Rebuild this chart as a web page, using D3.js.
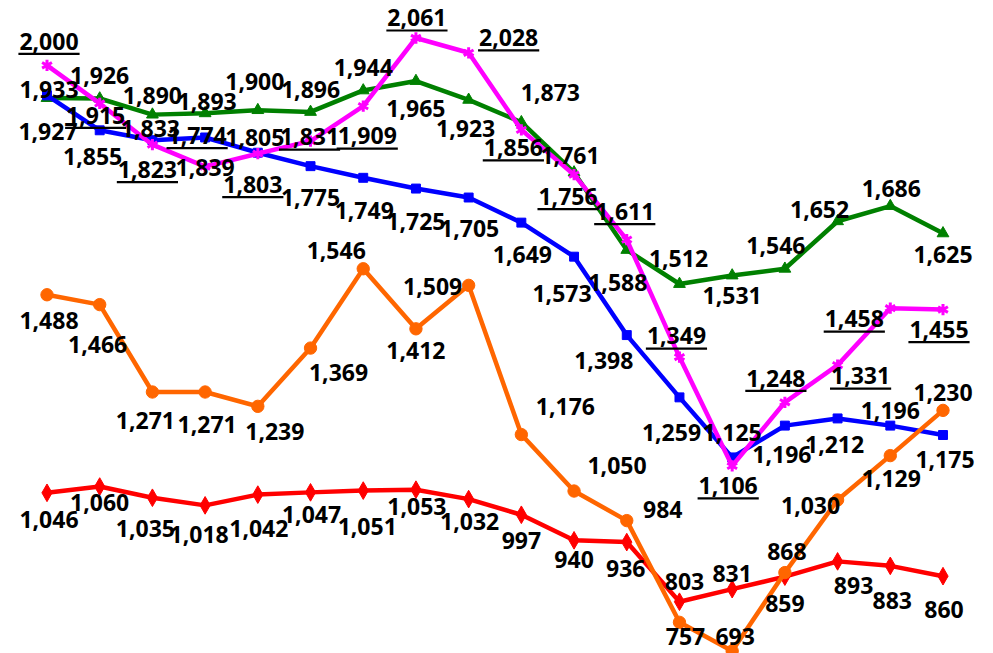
<!DOCTYPE html>
<html>
<head>
<meta charset="utf-8">
<script src="https://cdn.jsdelivr.net/npm/d3@7"></script>
<style>
  html, body { margin: 0; padding: 0; background: #fff; }
  svg { display: block; }
  .lbl { font-family: "Open Sans", sans-serif; font-weight: bold; font-size: 23px; fill: #000; }
</style>
</head>
<body>
<svg></svg>
<script>
var width = 993
var height = 653

// 18 periods, no axis shown in the source
var periods = ["1","2","3","4","5","6","7","8","9","10","11","12","13","14","15","16","17","18"]

var orangeVals  = [1488,1466,1271,1271,1239,1369,1546,1412,1509,1176,1050,984,757,693,868,1030,1129,1230]
var redVals     = [1046,1060,1035,1018,1042,1047,1051,1053,1032,997,940,936,803,831,859,893,883,860]
var blueVals    = [1933,1855,1833,1839,1805,1775,1749,1725,1705,1649,1573,1398,1259,1125,1196,1212,1196,1175]
var greenVals   = [1927,1926,1890,1893,1900,1896,1944,1965,1923,1873,1761,1588,1512,1531,1546,1652,1686,1625]
var magentaVals = [2000,1915,1823,1774,1803,1831,1909,2061,2028,1856,1756,1611,1349,1106,1248,1331,1458,1455]

// where each value label sits relative to its point (dx, dy)
var orangeLbl  = [[2,26],[-2,40],[-7,29],[2,33],[17,25],[28,25],[-27,-18],[0,22],[-36,1],[44,-28],[43,-25],[36,-11],[6,14],[3,-14],[2,-21],[-27,6],[1,23],[0,-18]]
var redLbl     = [[2,27],[0,16],[-7,31],[-6,29],[1,34],[1,22],[4,36],[1,17],[1,23],[0,26],[0,19],[-1,27],[5,-20],[0,-15],[0,27],[16,24],[2,35],[1,34]]
var blueLbl    = [[2,-6],[-7,26],[-2,-11],[0,30],[-3,-15],[0,32],[1,33],[0,33],[1,31],[1,32],[-12,37],[-23,26],[-8,35],[0,-25],[-3,29],[-3,26],[0,-15],[2,25]]
var greenLbl   = [[1,34],[0,-23],[0,-19],[2,-12],[-3,-28],[0,-22],[0,-23],[0,28],[-3,29],[29,-30],[-4,-17],[-9,33],[-1,-25],[0,20],[-9,-23],[-18,-12],[1,-17],[0,21]]
var magentaLbl = [[2,-24],[-4,12],[-5,25],[-8,-31],[-5,31],[-1,-4],[4,30],[1,-20],[40,-15],[-8,18],[-6,22],[-2,-28],[-3,-21],[-4,20],[-9,-24],[23,11],[-36,11],[-4,20]]

var series = [
  {name: "red",     color: "#ff0000", values: redVals,     lbl: redLbl,     symbol: d3.symbolDiamond,  size: 90,  underline: false},
  {name: "green",   color: "#008000", values: greenVals,   lbl: greenLbl,   symbol: d3.symbolTriangle, size: 60,  underline: false},
  {name: "blue",    color: "#0000ff", values: blueVals,    lbl: blueLbl,    symbol: d3.symbolSquare,   size: 80,  underline: false},
  {name: "magenta", color: "#ff00ff", values: magentaVals, lbl: magentaLbl, symbol: d3.symbolAsterisk, size: 90,  underline: true},
  {name: "orange",  color: "#ff6600", values: orangeVals,  lbl: orangeLbl,  symbol: d3.symbolCircle,   size: 120, underline: false}
]

var x = d3.scalePoint()
  .domain(periods)
  .range([47, 943])

var y = d3.scaleLinear()
  .domain([693, 2061])
  .range([651, 38])

var svg = d3.select("svg")
  .attr("width", width)
  .attr("height", height)

var line = d3.line()
  .x((d, i) => x(periods[i]))
  .y(d => y(d))

var gLines = svg.append("g")

series.forEach(s => {
  var g = gLines.append("g")
  g.append("path")
    .datum(s.values)
    .attr("d", line)
    .attr("fill", "none")
    .attr("stroke", s.color)
    .attr("stroke-width", 4.5)
    .attr("stroke-linejoin", "round")

  g.selectAll("path.mk")
    .data(s.values)
    .enter()
    .append("path")
      .attr("class", "mk")
      .attr("transform", (d, i) => "translate(" + x(periods[i]) + "," + y(d) + ")")
      .attr("d", d3.symbol().type(s.symbol).size(s.size))
      .attr("fill", s.color)
      .attr("stroke", s.color)
      .attr("stroke-width", s.symbol == d3.symbolAsterisk ? 3 : 1)
})

var fmt = d3.format(",")
var gLbl = svg.append("g")

series.forEach(s => {
  s.values.forEach((v, i) => {
    var cx = x(periods[i]) + s.lbl[i][0]
    var cy = y(v) + s.lbl[i][1]
    var t = gLbl.append("text")
      .attr("class", "lbl")
      .attr("x", cx)
      .attr("y", cy)
      .attr("dy", "0.36em")
      .attr("text-anchor", "middle")
      .text(fmt(v))
    if (s.underline) {
      var w = t.node().getComputedTextLength()
      gLbl.append("line")
        .attr("x1", cx - w / 2 - 1)
        .attr("x2", cx + w / 2 + 1)
        .attr("y1", cy + 12.5)
        .attr("y2", cy + 12.5)
        .attr("stroke", "#000")
        .attr("stroke-width", 2.2)
    }
  })
})
</script>
</body>
</html>
